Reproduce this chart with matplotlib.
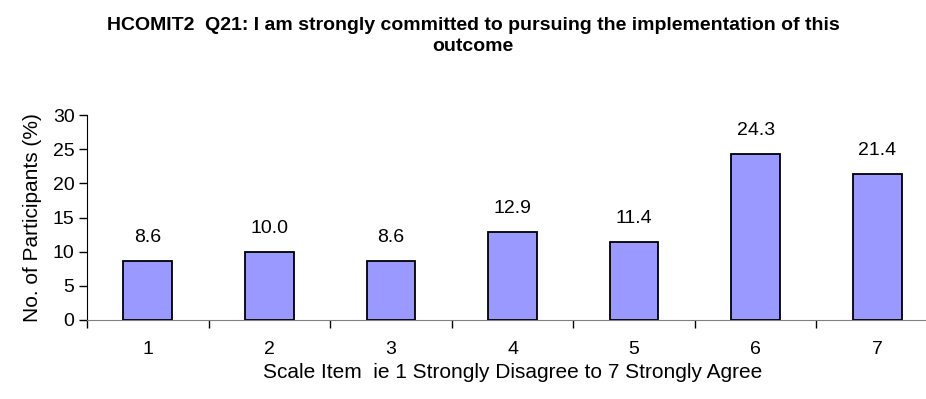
import matplotlib
matplotlib.use("Agg")
import matplotlib.pyplot as plt
import numpy as np

plt.rcParams['font.family'] = ['Liberation Sans', 'DejaVu Sans']

# survey responses, percentage of participants per scale item
scale_items = ['1', '2', '3', '4', '5', '6', '7']
percent = [8.6, 10.0, 8.6, 12.9, 11.4, 24.3, 21.4]

title = 'HCOMIT2  Q21: I am strongly committed to pursuing the implementation of this\noutcome'
x_title = 'Scale Item  ie 1 Strongly Disagree to 7 Strongly Agree'
y_title = 'No. of Participants (%)'

fig = plt.figure(figsize=(9.26, 3.99), dpi=100)
ax = fig.add_axes([87 / 926, 79 / 399, 851 / 926, 205 / 399])

pos = np.arange(len(scale_items))
ax.bar(pos, percent, width=0.4, color='#9999ff', edgecolor='black', linewidth=1.3, zorder=3)

for x, v in zip(pos, percent):
    ax.text(x, v + 2.2, '%.1f' % v, ha='center', va='bottom', fontsize=14)

ax.set_xlim(-0.5, len(scale_items) - 0.5)
ax.set_ylim(0, 30)
ax.set_yticks(range(0, 31, 5))

# labels at the centres, tick marks between categories
ax.set_xticks(pos)
ax.set_xticklabels(scale_items, fontsize=14)
ax.set_xticks(np.arange(-0.5, len(scale_items), 1), minor=True)
ax.tick_params(axis='x', which='major', length=0, pad=15)
ax.tick_params(axis='x', which='minor', length=6, width=1, color='black', direction='out')
ax.tick_params(axis='y', length=6, width=1, color='black', labelsize=14, pad=3)

for s in ['top', 'right']:
    ax.spines[s].set_visible(False)
ax.spines['left'].set_color('black')
ax.spines['bottom'].set_color('#808080')

ax.set_xlabel(x_title, fontsize=15, labelpad=4)
ax.set_ylabel(y_title, fontsize=15, labelpad=8)

fig.text(0.511, 1 - 36 / 399, title, ha='center', va='center', fontsize=14,
         fontweight='bold', linespacing=1.25)

fig.savefig('out.png', dpi=100)
